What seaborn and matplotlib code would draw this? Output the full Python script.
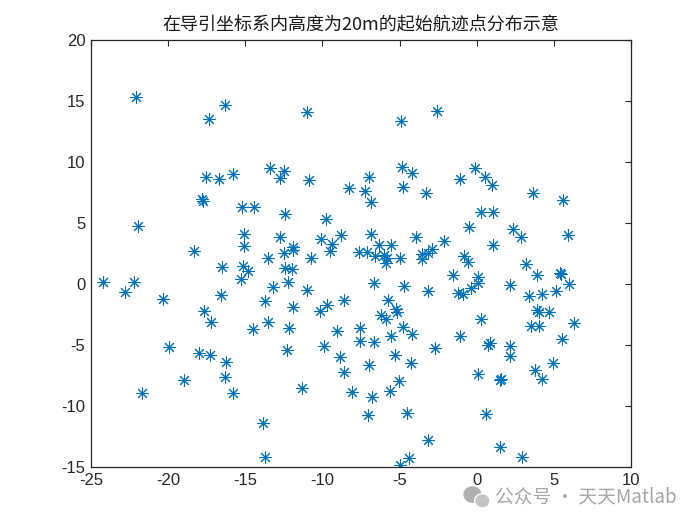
import numpy as np
import pandas as pd
import matplotlib
matplotlib.use("Agg")
import matplotlib.pyplot as plt
import seaborn as sns
from matplotlib.patches import Ellipse

x_vals = [
    -22.08, -16.30, -17.33, -13.40, -17.57, -16.68, -15.77, -17.83, -17.75, -15.21,
    -14.41, -21.93, -15.10, -15.06, -18.30, -13.53,
    -11.00, -4.91, -2.56, -12.51, -12.75, -10.85, -8.26, -6.99, -7.24, -6.83,
    -4.84, -4.20, -4.76, -3.27, -12.41, -9.77, -12.75, -10.09, -9.36, -8.79,
    -11.89, -11.93, -12.49, -10.74, -9.49, -6.83, -6.31, -5.56, -7.64, -7.11,
    -6.59, -6.01, -5.80, -4.95, -3.96, -2.09, -3.53, -3.14, -2.88,
    -0.11, -1.09, 0.55, 0.97, 3.66, 5.61, 0.27, 1.03, -0.50, 2.37,
    2.87, 5.93, 1.08, -0.80,
    -24.20, -22.80, -22.20, -20.35, -16.53, -15.13, -14.80, -15.28, -13.23, -16.58,
    -13.72, -17.66, -17.22, -13.53, -14.48, -19.93, -18.00, -17.29, -16.27, -19.00,
    -16.30, -21.70, -15.78, -13.88, -13.72,
    -5.86, -3.57, -12.40, -12.00, -12.21, -10.98, -11.89, -10.18, -9.69, -8.60,
    -12.17, -12.30, -9.90, -9.06, -8.84, -8.60, -7.55, -7.55, -6.64, -6.96,
    -6.64, -4.74, -3.16, -5.72, -6.20, -5.86, -5.26, -5.19, -4.78, -4.18,
    -5.56, -5.30, -4.26, -2.69, -11.30, -8.07, -6.77, -5.62, -5.02, -7.03,
    -4.50, -3.16, -4.39, -4.97, -1.52,
    -0.54, 3.19, 0.08, 0.10, -0.37, -1.20, -0.87, 2.18, 3.93, 5.40,
    5.46, 6.00, 5.16, 3.40, 4.21, 3.88, 4.05, 4.70, 3.52, 4.03,
    6.32, 0.26, -1.09, 0.71, 0.86, 2.15, 2.18, 5.52, 4.92, 3.80,
    4.21, 0.08, 1.48, 1.60, 0.62, 1.49, 2.91,
]
y_vals = [
    15.30, 14.67, 13.50, 9.48, 8.75, 8.58, 9.00, 7.00, 6.80, 6.29,
    6.29, 4.75, 4.07, 3.11, 2.73, 2.10,
    14.07, 13.40, 14.20, 9.26, 8.66, 8.52, 7.84, 8.75, 7.62, 6.72,
    9.57, 9.10, 7.93, 7.43, 5.71, 5.33, 3.85, 3.69, 3.25, 4.02,
    3.06, 2.79, 2.51, 2.10, 2.70, 4.07, 3.20, 3.20, 2.60, 2.65,
    2.32, 2.38, 2.16, 2.10, 3.85, 3.52, 2.43, 2.51, 2.84,
    9.48, 8.60, 8.75, 8.14, 7.43, 6.89, 5.93, 5.90, 4.65, 4.48,
    3.85, 4.02, 3.20, 2.32,
    0.14, -0.68, 0.19, -1.26, 1.37, 1.48, 1.07, 0.39, -0.27, -0.90,
    -1.39, -2.21, -3.11, -3.11, -3.69, -5.14, -5.68, -5.85, -6.39, -7.87,
    -7.60, -8.96, -8.96, -11.39, -14.20,
    1.70, 2.02, 1.30, 1.20, 0.19, -0.52, -1.91, -2.21, -1.72, -1.34,
    -3.64, -5.41, -5.11, -3.85, -5.96, -7.21, -3.64, -4.65, -4.75, -6.66,
    0.08, -0.16, -0.60, -1.29, -2.54, -2.84, -2.05, -2.30, -3.52, -4.10,
    -4.29, -5.85, -6.45, -5.25, -8.52, -8.88, -9.24, -8.80, -7.95, -10.70,
    -10.57, -12.81, -14.29, -14.84, 0.74,
    1.78, 1.64, 0.60, 0.11, -0.35, -0.76, -0.82, -0.08, 0.74, 0.93,
    0.80, 0.00, -0.57, -1.00, -0.82, -2.16, -2.32, -2.32, -3.47, -3.41,
    -3.22, -2.87, -4.29, -5.03, -4.81, -5.06, -5.88, -4.53, -6.45, -7.05,
    -7.81, -7.40, -7.90, -7.80, -10.68, -13.39, -14.15,
]
x_ticks = [-25, -20, -15, -10, -5, 0, 5, 10]
y_ticks = [-15, -10, -5, 0, 5, 10, 15, 20]
title_text = "在导引坐标系内高度为20m的起始航迹点分布示意"
watermark = "公众号 · 天天Matlab"

df = pd.DataFrame({"x": x_vals, "y": y_vals})

sns.set_theme(style="white")
plt.rcParams["font.family"] = ["Liberation Sans", "DejaVu Sans"]

fig = plt.figure(figsize=(7, 5.25), dpi=100)
ax = fig.add_axes([0.13, 0.1105, 0.7714, 0.8133])

sns.scatterplot(data=df, x="x", y="y", ax=ax, marker=(8, 2, 0), s=72,
                color="#0072BD", edgecolor="#0072BD", linewidth=0.75)

ax.set_xlim(-25, 10)
ax.set_ylim(-15, 20)
ax.set_xticks(x_ticks)
ax.set_yticks(y_ticks)
ax.set_xticklabels([str(t) for t in x_ticks])
ax.set_yticklabels([str(t) for t in y_ticks])
ax.set_xlabel("")
ax.set_ylabel("")
ax.tick_params(direction="in", length=4, width=0.8, top=True, right=True,
               labelsize=12, colors="#262626", pad=4)
for sp in ax.spines.values():
    sp.set_visible(True)
    sp.set_linewidth(0.9)
    sp.set_color("#262626")

ax.set_title(title_text, fontsize=13, pad=7, color="#1a1a1a",
             family=["Noto Sans CJK SC", "DejaVu Sans"])

# watermark
fig.text(0.707, 0.053, watermark, fontsize=13.5, color="#a6a6a6",
         va="center", ha="left", family=["Noto Sans CJK SC", "DejaVu Sans"])
fig.patches.append(Ellipse((0.675, 0.058), 0.026, 0.032, transform=fig.transFigure,
                           facecolor="#b0b0b0", edgecolor="none"))
fig.patches.append(Ellipse((0.689, 0.046), 0.022, 0.027, transform=fig.transFigure,
                           facecolor="#c4c4c4", edgecolor="white", linewidth=1))

fig.savefig("out.png", dpi=100)
